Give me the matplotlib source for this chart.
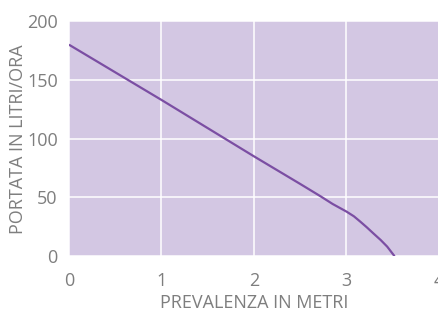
import matplotlib.pyplot as plt
import numpy as np

plt.rcParams['font.family'] = ['Open Sans', 'DejaVu Sans']

# dati
prevalenza = [0, 1, 2, 2.5, 2.72, 2.85, 3.0, 3.08, 3.15, 3.22, 3.29, 3.37, 3.44, 3.52]
portata = [180, 133, 85, 61.5, 51, 44.5, 38, 34, 29.4, 24.6, 19.5, 13.8, 8.2, 0]
x_ticks = [0, 1, 2, 3, 4]
y_ticks = [0, 50, 100, 150, 200]

grey = '#7e7e7e'

fig = plt.figure(figsize=(4.39, 3.11), dpi=100)
ax = fig.add_axes([0.157, 0.176, 0.843, 0.756])
ax.set_facecolor('#d3c7e3')

ax.plot(prevalenza, portata, color='#7b4ea3', lw=1.6, solid_capstyle='butt')

ax.set_xlim(0, 4)
ax.set_ylim(0, 200)
ax.set_xticks(x_ticks)
ax.set_yticks(y_ticks)
ax.grid(True, color='white', lw=1.1)
ax.set_axisbelow(True)
for s in ax.spines.values():
    s.set_visible(False)
ax.tick_params(length=0, colors=grey, labelsize=13)
ax.tick_params(axis='x', pad=11)
ax.tick_params(axis='y', pad=8)

ax.set_xlabel('PREVALENZA IN METRI', color=grey, fontsize=13, labelpad=3)
ax.set_ylabel('PORTATA IN LITRI/ORA', color=grey, fontsize=13, labelpad=0)

plt.savefig('out.png', dpi=100)
